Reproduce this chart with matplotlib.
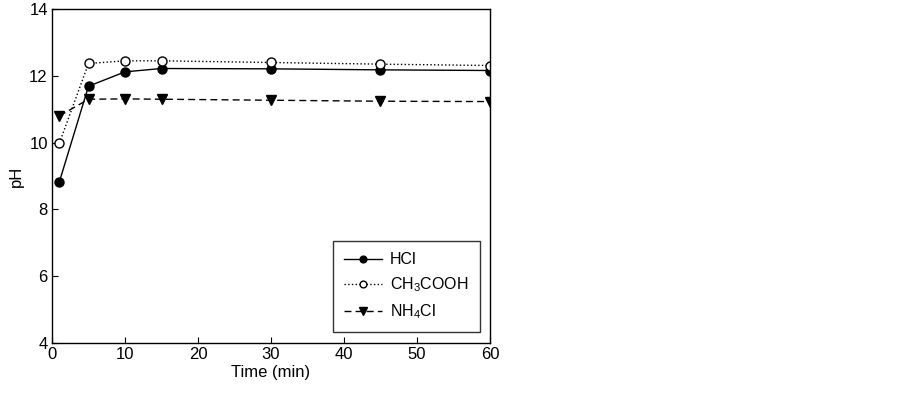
import matplotlib
matplotlib.use("Agg")
import matplotlib.pyplot as plt

plt.rcParams['font.family'] = ['Liberation Sans', 'DejaVu Sans']
plt.rcParams['mathtext.default'] = 'regular'

# Data
time_min = [1, 5, 10, 15, 30, 45, 60]
ph_hcl = [8.82, 11.69, 12.12, 12.22, 12.21, 12.18, 12.16]
ph_ch3cooh = [9.98, 12.37, 12.45, 12.45, 12.40, 12.35, 12.31]
ph_nh4cl = [10.80, 11.30, 11.31, 11.30, 11.27, 11.24, 11.23]
series_labels = ['HCl', r'CH$_3$COOH', r'NH$_4$Cl']

fig = plt.figure(figsize=(9.03, 3.94), dpi=100)
ax = fig.add_axes([0.0576, 0.1294, 0.485, 0.8476])

ax.plot(time_min, ph_hcl, color='black', linestyle='-', linewidth=1,
        marker='o', markersize=6.5, markerfacecolor='black', label=series_labels[0])
ax.plot(time_min, ph_ch3cooh, color='black', linestyle=':', linewidth=1,
        marker='o', markersize=6.5, markerfacecolor='white', label=series_labels[1])
ax.plot(time_min, ph_nh4cl, color='black', linestyle=(0, (5, 3)), linewidth=1,
        marker='v', markersize=7, markerfacecolor='black', label=series_labels[2])

ax.set_xlim(0, 60)
ax.set_ylim(4, 14)
ax.set_xticks(range(0, 61, 10))
ax.set_yticks(range(4, 15, 2))
ax.tick_params(direction='in', length=4, width=0.8, labelsize=12, pad=3)
ax.set_xlabel('Time (min)', fontsize=12, labelpad=2)
ax.set_ylabel('pH', fontsize=12, labelpad=4)
for sp in ax.spines.values():
    sp.set_linewidth(1)

leg = ax.legend(loc='lower right', bbox_to_anchor=(0.977, 0.033), borderaxespad=0,
                fontsize=11.5, frameon=True, fancybox=False, edgecolor='black',
                markerscale=0.75, handlelength=2.4, labelspacing=0.5,
                borderpad=0.7, handletextpad=0.5)
leg.get_frame().set_linewidth(1)

fig.savefig('out.png', dpi=100)
